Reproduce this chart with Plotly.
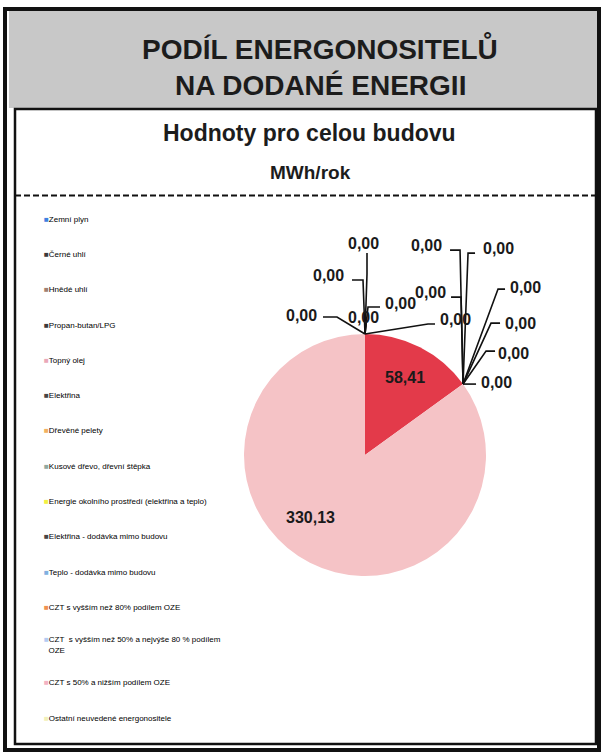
import math
import plotly.graph_objects as go

W, H = 601, 755

def X(px):
    return px / W

def Y(py):
    return 1 - py / H

# ---------------- data ----------------
categories = [
    "Zemní plyn",
    "Černé uhlí",
    "Hnědé uhlí",
    "Propan-butan/LPG",
    "Topný olej",
    "Elektřina",
    "Dřevěné pelety",
    "Kusové dřevo, dřevní štěpka",
    "Energie okolního prostředí (elektřina a teplo)",
    "Elektřina - dodávka mimo budovu",
    "Teplo - dodávka mimo budovu",
    "CZT s vyšším než 80% podílem OZE",
    "CZT  s vyšším než 50% a nejvýše 80 % podílem<br>&nbsp;&nbsp;OZE",
    "CZT s 50% a nižším podílem OZE",
    "Ostatní neuvedené energonositele",
]
values = [0, 0, 0, 0, 0, 0, 58.41, 0, 0, 0, 0, 0, 0, 0, 330.13]
legend_colors = [
    "#3d80e0", "#3a3a3a", "#a08070", "#3a3a3a", "#eaa8b8",
    "#454545", "#f2b060", "#8fa8a0", "#f2f040", "#454545",
    "#80b0e0", "#f09050", "#b4cbf2", "#f4b2c2", "#f2f0b8",
]
pie_colors = list(legend_colors)
pie_colors[6] = "#e33a4a"
pie_colors[14] = "#f5c3c6"

FONT = "Liberation Sans, Arial, sans-serif"

def fmt(v):
    return f"{v:.2f}".replace(".", ",")

# pie geometry (layout)
cx, cy, r = 365, 455, 121

fig = go.Figure()
fig.add_trace(go.Pie(
    labels=categories, values=values, sort=False, direction="clockwise", rotation=0,
    marker=dict(colors=pie_colors, line=dict(width=0)),
    textinfo="none",
    domain=dict(x=[X(cx - r), X(cx + r)], y=[Y(cy + r), Y(cy - r)]),
    showlegend=False, hoverinfo="label+value",
))

# legend via dummy traces (tiny square markers inside the text, Excel-like spacing)
for name, col in zip(categories, legend_colors):
    fig.add_trace(go.Scatter(
        x=[None], y=[None], mode="markers",
        marker=dict(size=1, color="rgba(0,0,0,0)", line=dict(width=0)),
        name=f'<span style="color:{col}">■</span>{name}',
        legendgroup=name, showlegend=True, hoverinfo="skip",
    ))

# zero-value labels with leader lines (Excel style)
# offsets relative to the slice's anchor point on the pie edge: label, elbow, end
label_offsets = [
    (-64, -19, -28, -17, -42, -17),
    (-37, -59, -2, -54, -13, -54),
    (-2, -91, 2, -60, 2, -81),
    (35, -31, 3, -27, 15, -27),
    (-2, -17, 1, -8, 1, -12),
    (90, -15, 63, -10, 70, -10),
    (-37, -139, -3, -134, -13, -134),
    (35, -136, 5, -131, 12, -131),
    (-33, -92, -2, -87, -12, -87),
    (62, -97, 35, -95, 42, -95),
    (57, -61, 28, -61, 37, -61),
    (50, -31, 23, -33, 32, -33),
    (33, -2, 7, 0, 13, 0),
]
# inside label placement for non-zero slices: (angle tweak in degrees, radius fraction)
inside_adjust = {6: (0, 0.72), 14: (14, 0.69)}

total = sum(values)
lead_shapes = []
value_annots = []
cum = 0.0
zi = 0
for i, v in enumerate(values):
    if v == 0:
        theta = math.radians(360 * cum / total)
        ax = cx + r * math.sin(theta)
        ay = cy - r * math.cos(theta)
        lx, ly, ex, ey, tx, ty = label_offsets[zi]
        zi += 1
        path = (f"M {X(ax)},{Y(ay)} L {X(ax + ex)},{Y(ay + ey)} "
                f"L {X(ax + tx)},{Y(ay + ty)}")
        lead_shapes.append(dict(type="path", xref="paper", yref="paper", path=path,
                                line=dict(color="#111", width=1.6)))
        value_annots.append(dict(x=X(ax + lx), y=Y(ay + ly), text=fmt(v), size=16))
    else:
        dth, rf = inside_adjust.get(i, (0, 0.7))
        mid = math.radians(360 * (cum + v / 2) / total + dth)
        px = cx + rf * r * math.sin(mid)
        py = cy - rf * r * math.cos(mid)
        value_annots.append(dict(x=X(px), y=Y(py), text=fmt(v), size=16))
    cum += v

annotations = []
for a in value_annots:
    annotations.append(dict(x=a["x"], y=a["y"], xref="paper", yref="paper",
                            text=a["text"], showarrow=False, xanchor="center",
                            yanchor="middle",
                            font=dict(family=FONT, size=a["size"], color="#1a1a1a",
                                      weight="bold")))

# frame, header band, dashed separator
shapes = [
    dict(type="rect", xref="paper", yref="paper", x0=X(9), x1=X(597), y0=Y(108), y1=Y(11),
         fillcolor="#c8c8c8", line=dict(width=0), layer="below"),
    dict(type="rect", xref="paper", yref="paper", x0=X(5), x1=X(599), y0=Y(750), y1=Y(9),
         line=dict(color="#111", width=4)),
    dict(type="rect", xref="paper", yref="paper", x0=X(15), x1=X(596), y0=Y(744), y1=Y(109),
         fillcolor="rgba(0,0,0,0)", line=dict(color="#111", width=2.5)),
    dict(type="line", xref="paper", yref="paper", x0=X(15), x1=X(596), y0=Y(195.5), y1=Y(195.5),
         line=dict(color="#111", width=2, dash="6px,3px")),
] + lead_shapes

title_annots = [
    dict(x=X(320), y=Y(48), text="PODÍL ENERGONOSITELŮ",
         font=dict(family=FONT, size=28, color="#1c1c1c", weight="bold")),
    dict(x=X(320), y=Y(86), text="NA DODANÉ ENERGII",
         font=dict(family=FONT, size=28, color="#1c1c1c", weight="bold")),
    dict(x=X(309), y=Y(133), text="Hodnoty pro celou budovu",
         font=dict(family=FONT, size=23, color="#1c1c1c", weight="bold")),
    dict(x=X(310), y=Y(172), text="MWh/rok",
         font=dict(family=FONT, size=19, color="#1c1c1c", weight="bold")),
]
for a in title_annots:
    a.update(xref="paper", yref="paper", showarrow=False, xanchor="center", yanchor="middle")

fig.update_layout(
    width=W, height=H,
    margin=dict(l=0, r=0, t=0, b=0),
    paper_bgcolor="white", plot_bgcolor="rgba(0,0,0,0)",
    xaxis=dict(visible=False), yaxis=dict(visible=False),
    shapes=shapes,
    annotations=title_annots + annotations,
    legend=dict(x=X(4), y=Y(204), xanchor="left", yanchor="top",
                font=dict(family=FONT, size=8, color="#000"),
                tracegroupgap=16.3, itemwidth=30, bgcolor="rgba(0,0,0,0)",
                itemclick=False, itemdoubleclick=False),
)

fig.write_html("out.html", config={"displayModeBar": False},
               post_script="document.body.style.margin='0px';")
